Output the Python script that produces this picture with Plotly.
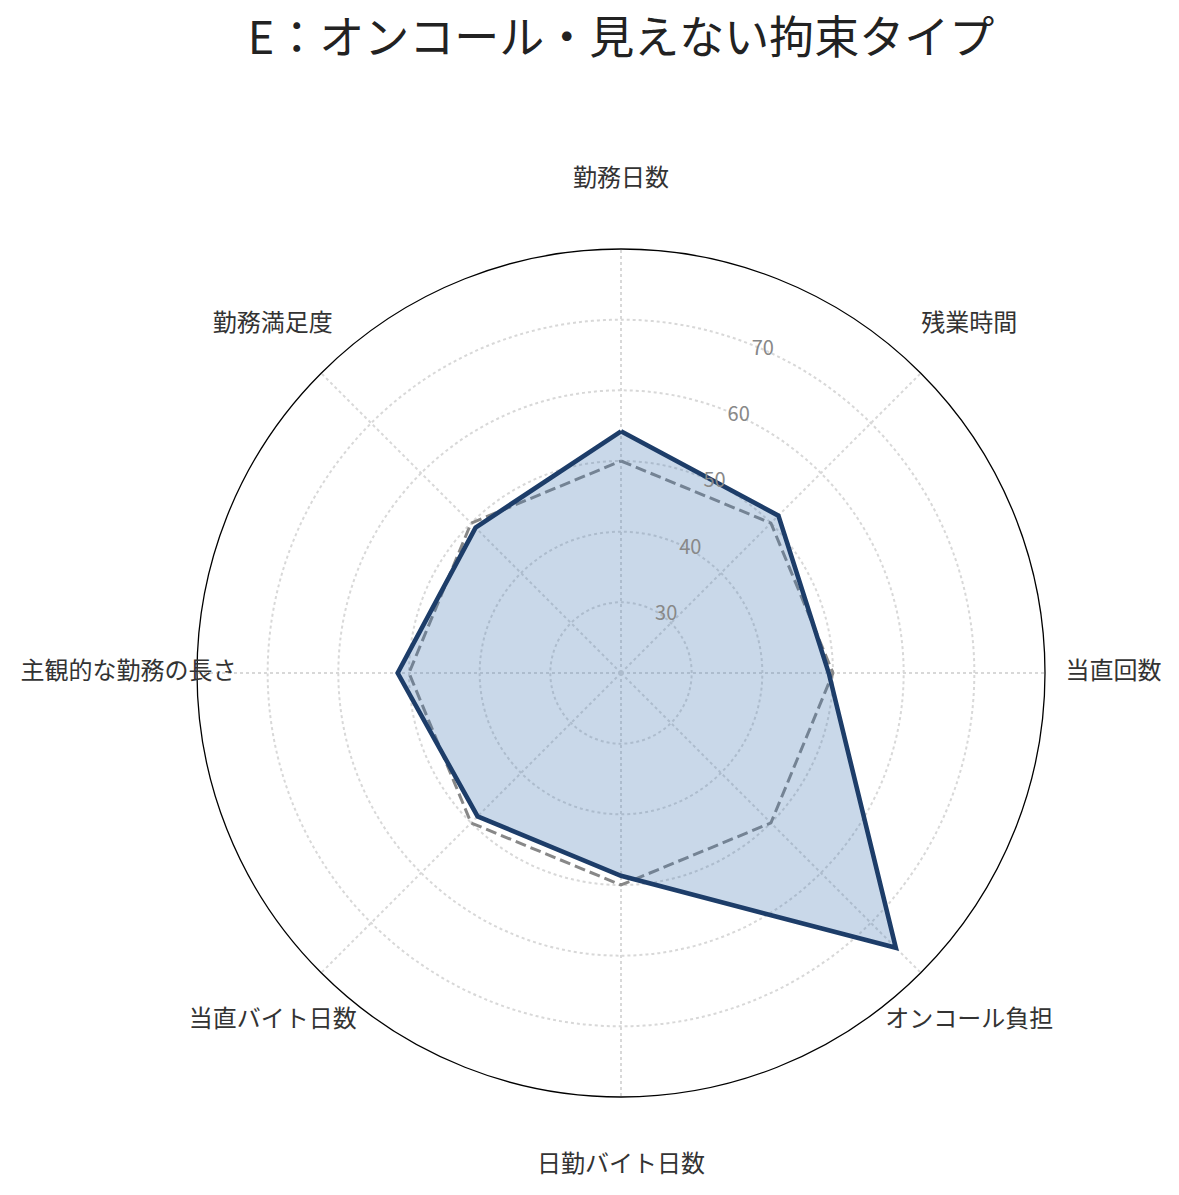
import plotly.graph_objects as go

# radar categories (clockwise from top)
categories = ['勤務日数', '残業時間', '当直回数', 'オンコール負担',
              '日勤バイト日数', '当直バイト日数', '主観的な勤務の長さ', '勤務満足度']
type_e = [54.2, 51.5, 49.4, 75.0, 48.7, 48.7, 51.6, 49.1]
average = [50, 50, 50, 50, 50, 50, 50, 50]
radial_ticks = [30, 40, 50, 60, 70]
label_r = [89.7] * len(categories)

FONT = 'Noto Sans CJK JP'
W, H = 1179, 1195
# page body has an 8px margin, so shift everything up/left by 8
CX, CY, R = 621 - 8, 673 - 8, 424   # centre / radius of the radar in px
R_OUT = 520                          # radius of invisible label layer
r_min, r_max = 20, 80
r_max_out = r_min + (r_max - r_min) * R_OUT / R


def dom(radius):
    return dict(x=[(CX - radius) / W, (CX + radius) / W],
                y=[(H - CY - radius) / H, (H - CY + radius) / H])


fig = go.Figure()

# average (dashed reference)
fig.add_trace(go.Scatterpolar(r=average + average[:1],
                              theta=categories + categories[:1],
                              mode='lines',
                              line=dict(color='#888888', width=3, dash='11px,5px'),
                              showlegend=False))

# type E
fig.add_trace(go.Scatterpolar(r=type_e + type_e[:1],
                              theta=categories + categories[:1],
                              mode='lines',
                              fill='toself',
                              fillcolor='rgba(70,120,180,0.29)',
                              line=dict(color='#1d3d69', width=4.6),
                              showlegend=False))

# category labels on a bigger, invisible polar layer
fig.add_trace(go.Scatterpolar(r=label_r, theta=categories,
                              mode='text', text=categories,
                              textfont=dict(family=FONT, size=24, color='#333333'),
                              showlegend=False, hoverinfo='skip',
                              subplot='polar2'))

fig.update_layout(
    width=W, height=H,
    paper_bgcolor='white',
    margin=dict(l=0, r=0, t=0, b=0),
    title=dict(text='E：オンコール・見えない拘束タイプ',
               x=CX / W, xanchor='center', y=1 - 30 / H, yanchor='middle',
               font=dict(family=FONT, size=45, color='#222222')),
    polar=dict(
        domain=dom(R),
        bgcolor='white',
        radialaxis=dict(range=[r_min, r_max], tickvals=radial_ticks,
                        angle=70, tickangle=70,
                        showline=False, ticks='',
                        gridcolor='#d8d8d8', griddash='dot', gridwidth=1.5,
                        tickfont=dict(family=FONT, size=20, color='#888888')),
        angularaxis=dict(direction='clockwise', rotation=90,
                         showticklabels=False, ticks='',
                         showline=True, linecolor='black', linewidth=1.3,
                         gridcolor='#d8d8d8', griddash='dot', gridwidth=1.5),
    ),
    polar2=dict(
        domain=dom(R_OUT),
        bgcolor='rgba(0,0,0,0)',
        radialaxis=dict(range=[r_min, r_max_out], visible=False),
        angularaxis=dict(direction='clockwise', rotation=90, visible=False,
                         categoryarray=categories, type='category'),
    ),
)

fig.write_html("out.html")
